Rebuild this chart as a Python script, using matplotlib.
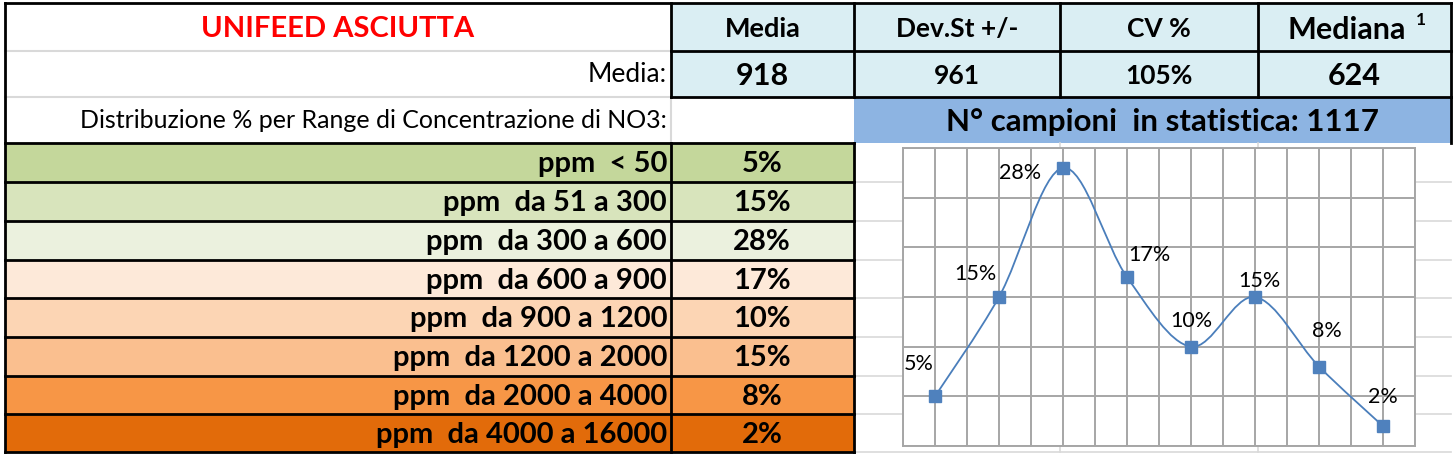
import matplotlib
matplotlib.use('Agg')
import matplotlib.pyplot as plt
from matplotlib.patches import Rectangle, PathPatch
from matplotlib.path import Path
import numpy as np

# --- data ---
title = 'UNIFEED ASCIUTTA'
stat_names = ['Media', 'Dev.St +/-', 'CV %', 'Mediana']
stat_values = ['918', '961', '105%', '624']
n_campioni = 1117
ranges = ['ppm  < 50', 'ppm  da 51 a 300', 'ppm  da 300 a 600', 'ppm  da 600 a 900',
          'ppm  da 900 a 1200', 'ppm  da 1200 a 2000', 'ppm  da 2000 a 4000',
          'ppm  da 4000 a 16000']
pct = [5, 15, 28, 17, 10, 15, 8, 2]

# --- styling ---
row_colors = ['#C4D79B', '#D8E4BC', '#EBF1DE', '#FDE9D9', '#FCD5B4', '#FABF8F',
              '#F79646', '#E26B0A']
light_blue = '#DAEEF3'
mid_blue = '#8DB4E2'
sheet_grey = '#D9D9D9'
FONT = 'Lato'

W, H = 1453, 456
col_x = [5, 671, 854, 1060, 1258, 1451]
row_y = [4, 52, 98, 144, 183, 222, 261, 299, 338, 377, 415, 453]

fig = plt.figure(figsize=(W / 100, H / 100), dpi=100)
ax = fig.add_axes([0, 0, 1, 1])
ax.set_xlim(0, W)
ax.set_ylim(H, 0)
ax.axis('off')


def cell(x0, x1, y0, y1, color):
    ax.add_patch(Rectangle((x0, y0), x1 - x0, y1 - y0, facecolor=color, edgecolor='none', zorder=1))


def hline(y, x0, x1, color='black', lw=2.0):
    ax.plot([x0, x1], [y, y], color=color, lw=lw, solid_capstyle='projecting', zorder=3 if color == 'black' else 2)


def vline(x, y0, y1, color='black', lw=2.0):
    ax.plot([x, x], [y0, y1], color=color, lw=lw, solid_capstyle='projecting', zorder=3 if color == 'black' else 2)


def txt(x, y, s, size, bold=True, ha='center', color='black'):
    ax.text(x, y, s, fontsize=size, fontweight='bold' if bold else 'normal', family=FONT,
            ha=ha, va='center', color=color, zorder=5)


# fills
for i in range(4):
    cell(col_x[i + 1], col_x[i + 2], row_y[0], row_y[2], light_blue)
cell(col_x[2], col_x[5], row_y[2], row_y[3], mid_blue)
for i, c in enumerate(row_colors):
    cell(col_x[0], col_x[2], row_y[3 + i], row_y[4 + i], c)

# light sheet grid in the chart zone
for y in row_y[4:]:
    hline(y, col_x[2], col_x[5], color=sheet_grey, lw=1.2)
for x in col_x[3:5]:
    vline(x, row_y[3], row_y[-1], color=sheet_grey, lw=1.2)
hline(row_y[1], col_x[0], col_x[1], color=sheet_grey, lw=1.5)
hline(row_y[2], col_x[0], col_x[1], color=sheet_grey, lw=1.5)
vline(col_x[1], row_y[2], row_y[3], color=sheet_grey, lw=1.5)

# black borders
hline(row_y[0], col_x[0], col_x[5])
hline(row_y[1], col_x[1], col_x[5])
hline(row_y[2], col_x[1], col_x[5])
vline(col_x[0], row_y[0], row_y[-1])
vline(col_x[1], row_y[0], row_y[2])
for x in col_x[2:]:
    vline(x, row_y[0], row_y[2])
vline(col_x[5], row_y[2], row_y[3])
for y in row_y[3:]:
    hline(y, col_x[0], col_x[2])
vline(col_x[1], row_y[3], row_y[-1])
vline(col_x[2], row_y[3], row_y[-1])

# texts, top block
txt(338, 29, title, 21, color='#FF0000')
txt(667, 75, 'Media:', 19, bold=False, ha='right')
txt(667, 121, 'Distribuzione % per Range di Concentrazione di NO3:', 18, bold=False, ha='right')
name_sizes = [19.5, 19, 19, 22]
val_sizes = [22, 19, 19, 22]
for i, (name, val) in enumerate(zip(stat_names, stat_values)):
    xc = (col_x[i + 1] + col_x[i + 2]) / 2
    if i == 3:
        txt(1406, 30, name, name_sizes[i], ha='right')
    else:
        txt(xc, 29, name, name_sizes[i])
    txt(xc, 76, val, val_sizes[i])
txt(1416, 20, '1', 12.5, ha='left')
txt(1162, 122, f'N° campioni  in statistica: {n_campioni}', 22.5)

# distribution rows
for i, (lab, p) in enumerate(zip(ranges, pct)):
    yc = (row_y[3 + i] + row_y[4 + i]) / 2 + 1
    txt(667, yc, lab, 21, ha='right')
    txt(762, yc, f'{p}%', 21)

# --- the small smoothed line chart ---
pl, pr, pt, pb = 903, 1415, 149, 447
cax = fig.add_axes([pl / W, 1 - pb / H, (pr - pl) / W, (pb - pt) / H])
cax.set_facecolor('white')
x = np.arange(1, len(pct) + 1)
y = np.array(pct, dtype=float)
cax.set_xlim(0.5, len(pct) + 0.5)
cax.set_ylim(0, 30)
cax.set_xticks(np.arange(0.5, len(pct) + 0.51, 0.5))
cax.set_yticks(np.arange(0, 31, 5))
cax.grid(True, color='#A6A6A6', lw=1.4)
cax.tick_params(length=0, labelbottom=False, labelleft=False)
for s in cax.spines.values():
    s.set_color('#A6A6A6')
    s.set_linewidth(1.4)
cax.set_axisbelow(True)

# catmull-rom style bezier through the points (like Excel "smoothed line")
xp = np.concatenate([[x[0]], x, [x[-1]]])
yp = np.concatenate([[y[0]], y, [y[-1]]])
verts = [(x[0], y[0])]
codes = [Path.MOVETO]
for i in range(1, len(xp) - 2):
    c1 = (xp[i] + (xp[i + 1] - xp[i - 1]) / 6, yp[i] + (yp[i + 1] - yp[i - 1]) / 6)
    c2 = (xp[i + 1] - (xp[i + 2] - xp[i]) / 6, yp[i + 1] - (yp[i + 2] - yp[i]) / 6)
    verts += [c1, c2, (xp[i + 1], yp[i + 1])]
    codes += [Path.CURVE4] * 3
cax.add_patch(PathPatch(Path(verts, codes), facecolor='none', edgecolor='#4A7EBB', lw=1.3, zorder=3))
cax.plot(x, y, ls='none', marker='s', ms=8.5, color='#4F81BD', zorder=4)

label_off = [(-12, 24), (-17, 17), (-31, -3), (16, 17), (0, 19), (3, 12), (6, 26), (0, 22)]
for xi, yi, off in zip(x, y, label_off):
    cax.annotate(f'{int(yi)}%', (xi, yi), xytext=off, textcoords='offset points',
                 ha='center', va='center', fontsize=15.5, family=FONT, zorder=5,
                 annotation_clip=False)

fig.savefig('out.png', dpi=100)
